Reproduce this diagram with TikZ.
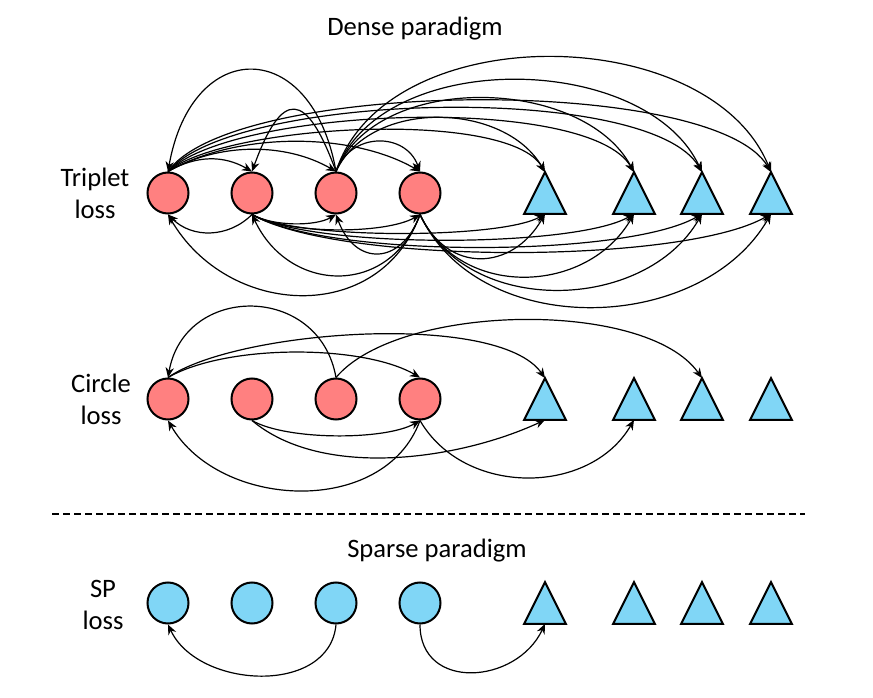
\documentclass[tikz,border=0pt]{standalone}
\usepackage{fontspec}
\setmainfont{Carlito}
\usetikzlibrary{arrows.meta}
\definecolor{pinkred}{RGB}{255,128,128}
\definecolor{skyblue}{RGB}{128,214,246}
\begin{document}
\begin{tikzpicture}[x=0.5pt,y=0.5pt,
    ball/.style={circle,draw,line width=1pt,minimum size=20.5pt,inner sep=0pt},
    tri/.style={rectangle,minimum width=20.5pt,minimum height=20.5pt,inner sep=0pt},
    arr/.style={-{Stealth[length=5pt,width=4.2pt]},line width=0.6pt},
    lbl/.style={font=\fontsize{13.3}{16}\selectfont,align=center}]
  \useasboundingbox (0,0) rectangle (873,697);
  \node[lbl,anchor=base] (dense) at (415,661) {Dense paradigm};
  \node[lbl,anchor=base] (sparse) at (437,140) {Sparse paradigm};
  \node[lbl] (triplet) at (95,504) {Triplet\\loss};
  \node[lbl] (circ) at (101,298) {Circle\\loss};
  \node[lbl] (sp) at (103,92) {SP\\loss};
  \draw[line width=0.75pt,dash pattern=on 3.5pt off 2pt] (52,183) -- (805,183);
  \foreach \r/\y/\col in {a/504/pinkred,b/298/pinkred,c/94/skyblue}{%
    \foreach \i/\x in {1/168,2/252,3/336,4/420}
      \node[ball,fill=\col] (\r\i) at (\x,\y) {};
    \foreach \i/\x in {1/545,2/634,3/702,4/771}{%
      \node[tri] (\r t\i) at (\x,\y) {};
      \filldraw[fill=skyblue,line width=1pt] (\r t\i.south west) -- (\r t\i.north) -- (\r t\i.south east) -- cycle;
    }
  }
  \foreach \s/\t/\o/\n/\l in {%
    a3.north/a1.north/100/80/2.1,
    a3.north/a2.north/110/70/2.67,
    a3.north/a4.north/70/110/1.29,
    a3.north/at1.north/65/120/0.99,
    a3.north/at2.north/68/118/0.93,
    a3.north/at3.north/70/115/0.93,
    a3.north/at4.north/72/112/0.96,
    a1.north/a2.north/30/150/1,
    a1.north/a3.north/30/150/0.89,
    a1.north/a4.north/30/150/0.81,
    a1.north/at1.north/40/120/0.5,
    a1.north/at2.north/45/120/0.5,
    a1.north/at3.north/50/120/0.5,
    a1.north/at4.north/55/120/0.48,
    a2.south/a1.south/-135/-45/1.03,
    a2.south/a3.south/-30/-150/0.73,
    a2.south/a4.south/-30/-150/0.61,
    a2.south/at1.south/-30/-150/0.44,
    a2.south/at2.south/-30/-150/0.46,
    a2.south/at3.south/-30/-150/0.5,
    a2.south/at4.south/-30/-150/0.5,
    a4.south/a1.south/-110/-60/1.21,
    a4.south/a2.south/-110/-65/1.34,
    a4.south/a3.south/-110/-70/1.68,
    a4.south/at1.south/-65/-120/1.35,
    a4.south/at2.south/-65/-120/1.12,
    a4.south/at3.south/-65/-120/1.03,
    a4.south/at4.south/-65/-120/1.02,
    b3.north/b1.north/100/80/1.46,
    b1.north/b4.north/30/150/0.68,
    b1.north/bt1.north/35/125/0.56,
    b3.north/bt3.north/50/125/0.68,
    b4.south/b1.south/-110/-60/1.05,
    b2.south/b4.south/-30/-150/0.61,
    b2.south/bt1.south/-40/-155/0.81,
    b4.south/bt2.south/-60/-120/1.05,
    c3.south/c1.south/-95/-65/1.09,
    c4.south/ct1.south/-90/-115/1.37}
    \draw[arr] (\s) to[out=\o,in=\n,looseness=\l] (\t);
\end{tikzpicture}
\end{document}
